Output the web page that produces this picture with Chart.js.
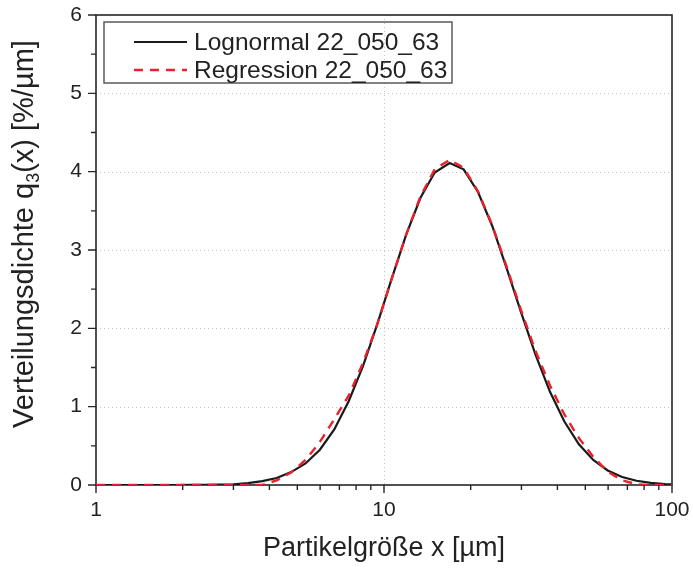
<!DOCTYPE html>
<html>
<head>
<meta charset="utf-8">
<script src="https://cdn.jsdelivr.net/npm/chart.js@4.4.1/dist/chart.umd.min.js"></script>
<style>
  html, body { margin: 0; padding: 0; background: #fff; }
  #wrap { width: 693px; height: 570px; }
</style>
</head>
<body>
<div id="wrap"><canvas id="canvas" width="693" height="570"></canvas></div>
<script>
// Partikelgroesse x [um]
var sizes = [1, 1.07, 1.2, 1.34, 1.51, 1.69, 1.9, 2.13,
    2.39, 2.68, 3.0, 3.37, 3.78, 4.24, 4.76, 5.34,
    5.99, 6.72, 7.54, 8.46, 9.49, 10.65, 11.95, 13.4,
    15.0, 16.9, 18.9, 21.2, 23.8, 26.7, 30.0, 33.6,
    37.7, 42.3, 47.5, 53.3, 59.8, 67.1, 75.3, 84.4,
    94.7, 100];

// q3(x) [%/um]
var lognormal = [0, 0, 0, 0, 0, 0, 0, 0.001,
    0.002, 0.004, 0.009, 0.025, 0.05, 0.09, 0.165, 0.275,
    0.45, 0.71, 1.07, 1.52, 2.06, 2.64, 3.2, 3.67,
    3.99, 4.11, 4.03, 3.74, 3.3, 2.76, 2.19, 1.66,
    1.19, 0.81, 0.52, 0.32, 0.185, 0.102, 0.054, 0.027,
    0.013, 0.009];

var regression = [0, 0, 0, 0, 0, 0, 0, 0,
    0, 0, 0, 0, 0, 0.06, 0.16, 0.32,
    0.55, 0.84, 1.14, 1.56, 2.06, 2.64, 3.2, 3.69,
    4.03, 4.15, 4.05, 3.75, 3.31, 2.78, 2.22, 1.71,
    1.27, 0.9, 0.6, 0.36, 0.17, 0.06, 0.01, 0,
    0, 0];

var seriesNames = ['Lognormal 22_050_63', 'Regression 22_050_63'];
var xMajor = [1, 10, 100];
var xMinor = [2, 3, 4, 5, 6, 7, 8, 9, 20, 30, 40, 50, 60, 70, 80, 90];
var yMajor = [0, 1, 2, 3, 4, 5, 6];
var yMinor = [0.5, 1.5, 2.5, 3.5, 4.5, 5.5];

var FONT = "'Liberation Sans', Arial, sans-serif";

function points(ys) {
    var out = [];
    for (var i = 0; i < sizes.length; i++) {
        out.push({ x: sizes[i], y: ys[i] });
    }
    return out;
}

function isMajor(v) {
    for (var i = 0; i < xMajor.length; i++) {
        if (Math.abs(v - xMajor[i]) < 1e-6) return true;
    }
    return false;
}

// gitter, rahmen, ticks
var framePlugin = {
    id: 'frame',
    beforeDatasetsDraw: function (chart) {
        var ctx = chart.ctx, a = chart.chartArea;
        var xs = chart.scales.x, ys = chart.scales.y;
        ctx.save();
        ctx.strokeStyle = '#c4c4c4';
        ctx.lineWidth = 1;
        ctx.setLineDash([1, 3]);
        for (var i = 1; i < yMajor.length - 1; i++) {
            var py = Math.round(ys.getPixelForValue(yMajor[i])) + 0.5;
            ctx.beginPath(); ctx.moveTo(a.left, py); ctx.lineTo(a.right, py); ctx.stroke();
        }
        var px = Math.round(xs.getPixelForValue(10)) + 0.5;
        ctx.beginPath(); ctx.moveTo(px, a.top); ctx.lineTo(px, a.bottom); ctx.stroke();
        ctx.setLineDash([]);

        ctx.strokeStyle = '#262626';
        ctx.lineWidth = 1.6;
        ctx.strokeRect(a.left, a.top, a.right - a.left, a.bottom - a.top);

        ctx.lineWidth = 1.4;
        ctx.beginPath();
        xMajor.forEach(function (v) {
            var p = xs.getPixelForValue(v);
            ctx.moveTo(p, a.bottom); ctx.lineTo(p, a.bottom + 8);
        });
        xMinor.forEach(function (v) {
            var p = xs.getPixelForValue(v);
            ctx.moveTo(p, a.bottom); ctx.lineTo(p, a.bottom + 5);
        });
        yMajor.forEach(function (v) {
            var p = ys.getPixelForValue(v);
            ctx.moveTo(a.left, p); ctx.lineTo(a.left - 8, p);
        });
        yMinor.forEach(function (v) {
            var p = ys.getPixelForValue(v);
            ctx.moveTo(a.left, p); ctx.lineTo(a.left - 5, p);
        });
        ctx.stroke();
        ctx.restore();
    },
    afterDraw: function (chart) {
        var ctx = chart.ctx, a = chart.chartArea;
        ctx.save();

        // legende
        var bx = a.left + 8, by = a.top + 7, bw = 348, bh = 61;
        ctx.strokeStyle = '#5a5a5a';
        ctx.lineWidth = 1.5;
        ctx.strokeRect(bx, by, bw, bh);
        ctx.font = '24.5px ' + FONT;
        ctx.textBaseline = 'middle';
        ctx.fillStyle = '#222';
        chart.data.datasets.forEach(function (ds, i) {
            var ly = by + 20 + i * 28;
            ctx.strokeStyle = ds.borderColor;
            ctx.lineWidth = ds.borderWidth;
            ctx.setLineDash(ds.borderDash || []);
            ctx.beginPath(); ctx.moveTo(bx + 30, ly); ctx.lineTo(bx + 83, ly); ctx.stroke();
            ctx.setLineDash([]);
            ctx.fillText(ds.label, bx + 90, ly + 1);
        });

        // y-achsentitel mit tiefgestellter 3
        var big = '29px ' + FONT, small = '18px ' + FONT;
        var p1 = 'Verteilungsdichte q', p2 = '3', p3 = '(x) [%/µm]';
        ctx.font = big;
        var w1 = ctx.measureText(p1).width, w3 = ctx.measureText(p3).width;
        ctx.font = small;
        var w2 = ctx.measureText(p2).width;
        var total = w1 + w2 + w3;
        ctx.translate(33, 234);
        ctx.rotate(-Math.PI / 2);
        ctx.textBaseline = 'alphabetic';
        ctx.textAlign = 'left';
        ctx.fillStyle = '#222';
        var sx = -total / 2;
        ctx.font = big; ctx.fillText(p1, sx, 0);
        ctx.font = small; ctx.fillText(p2, sx + w1, 6);
        ctx.font = big; ctx.fillText(p3, sx + w1 + w2, 0);
        ctx.restore();
    }
};

var config = {
    type: 'line',
    data: {
        datasets: [
            {
                label: seriesNames[0],
                data: points(lognormal),
                borderColor: '#1a1a1a',
                borderWidth: 2.2,
                pointRadius: 0,
                tension: 0,
                order: 2
            },
            {
                label: seriesNames[1],
                data: points(regression),
                borderColor: '#e8232d',
                borderWidth: 2.4,
                borderDash: [9, 7],
                pointRadius: 0,
                tension: 0,
                order: 1
            }
        ]
    },
    options: {
        responsive: false,
        animation: false,
        devicePixelRatio: 1,
        layout: { padding: { top: 15, right: 21, left: 0, bottom: 0 } },
        plugins: {
            legend: { display: false },
            tooltip: { enabled: false }
        },
        scales: {
            x: {
                type: 'logarithmic',
                min: 1,
                max: 100,
                grid: { display: false, drawTicks: false },
                border: { display: false },
                ticks: {
                    autoSkip: false,
                    maxRotation: 0,
                    padding: 13,
                    color: '#222',
                    font: { family: FONT, size: 21 },
                    callback: function (v) { return isMajor(v) ? String(Math.round(v)) : ''; }
                },
                title: {
                    display: true,
                    text: 'Partikelgröße x [µm]',
                    color: '#222',
                    font: { family: FONT, size: 27 },
                    padding: { top: 0, bottom: 5 }
                },
                afterFit: function (s) {
                    s.height = 85;
                    s.paddingLeft = 0;
                    s.paddingRight = 0;
                }
            },
            y: {
                min: 0,
                max: 6,
                grid: { display: false, drawTicks: false },
                border: { display: false },
                ticks: {
                    stepSize: 1,
                    padding: 14,
                    color: '#222',
                    font: { family: FONT, size: 21 }
                },
                afterFit: function (s) {
                    s.width = 96;
                    s.paddingTop = 0;
                    s.paddingBottom = 0;
                }
            }
        }
    },
    plugins: [framePlugin]
};

var ctx = document.getElementById('canvas').getContext('2d');
window.myLine = new Chart(ctx, config);
</script>
</body>
</html>
